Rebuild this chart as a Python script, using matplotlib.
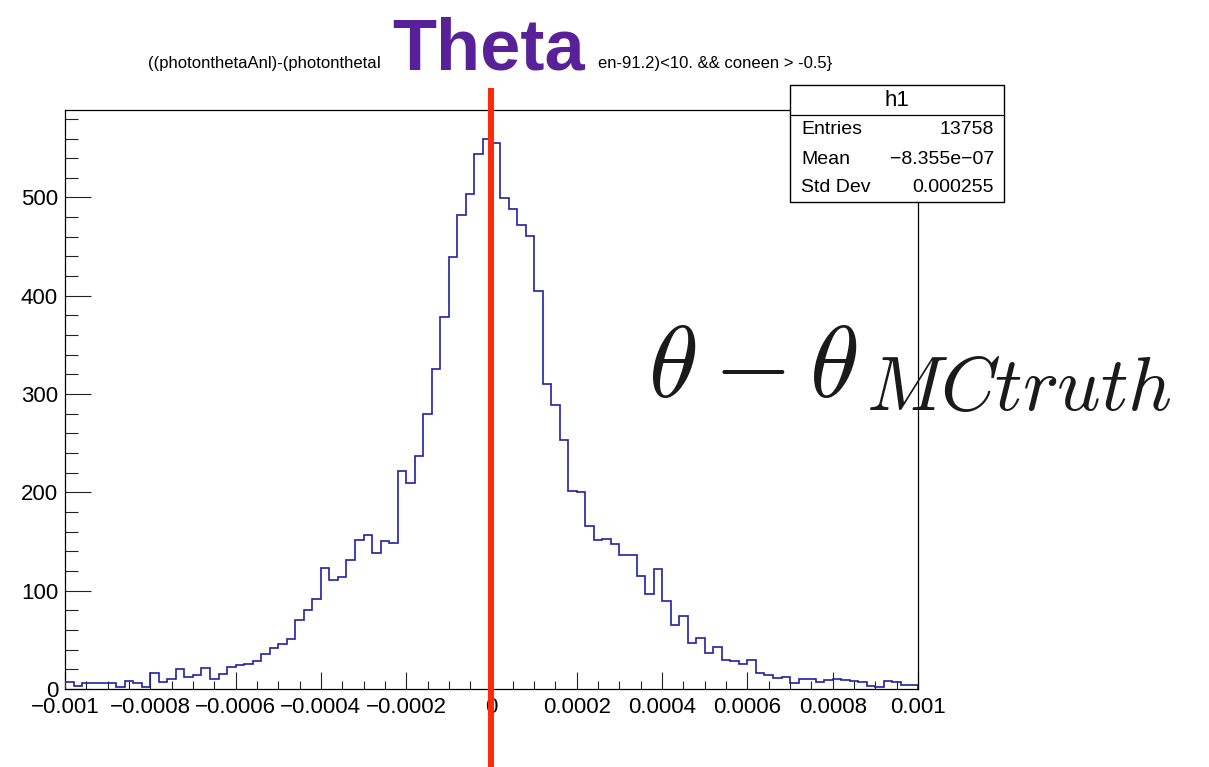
import numpy as np
import matplotlib
matplotlib.use("Agg")
import matplotlib.pyplot as plt
from matplotlib.ticker import MultipleLocator, FixedLocator, FixedFormatter
from matplotlib.patches import Rectangle
from matplotlib.lines import Line2D

plt.rcParams['font.family'] = ['Liberation Sans', 'DejaVu Sans']
plt.rcParams['mathtext.fontset'] = 'cm'

# ---- data ----
x_min, x_max, n_bins = -0.001, 0.001, 100
counts = [
    7, 3, 6, 6, 6, 6, 2, 8, 6, 2,
    16, 7, 10, 20, 12, 14, 21, 10, 15, 22,
    24, 25, 28, 36, 42, 46, 51, 70, 80, 92,
    123, 111, 114, 131, 152, 157, 138, 151, 149, 222,
    210, 237, 280, 326, 378, 439, 482, 504, 544, 560,
    555, 499, 488, 472, 461, 405, 310, 289, 253, 201,
    200, 166, 152, 153, 148, 136, 136, 115, 97, 122,
    90, 65, 74, 47, 52, 37, 43, 30, 28, 25,
    29, 16, 14, 11, 12, 6, 10, 10, 7, 9,
    10, 9, 8, 7, 3, 2, 8, 7, 4, 4,
]
x_tick_values = [-0.001, -0.0008, -0.0006, -0.0004, -0.0002, 0, 0.0002, 0.0004, 0.0006, 0.0008, 0.001]
x_tick_labels = ["\u22120.001", "\u22120.0008", "\u22120.0006", "\u22120.0004", "\u22120.0002", "0",
                 "0.0002", "0.0004", "0.0006", "0.0008", "0.001"]
y_tick_values = [0, 100, 200, 300, 400, 500]
y_tick_labels = ["0", "100", "200", "300", "400", "500"]
stat_name = "h1"
stat_rows = [("Entries", "13758"), ("Mean", "\u22128.355e\u221207"), ("Std Dev", "0.000255")]
title_left = "((photonthetaAnl)-(photonthetaI"
title_right = "en-91.2)<10. && coneen > -0.5}"
overlay_title = "Theta"
overlay_formula = r"$\theta - \theta$"
overlay_subscript = r"$MCtruth$"
marker_x = 0.0

W, H = 1209, 767
def fx(px):
    return px / W
def fy(py):
    return 1 - py / H

fig = plt.figure(figsize=(W / 100, H / 100), dpi=100)
ax = fig.add_axes([fx(65), fy(689), fx(918) - fx(65), fy(110) - fy(689)])

edges = np.linspace(x_min, x_max, n_bins + 1)
ax.stairs(counts, edges, color='#2020a6', linewidth=1.2, zorder=3)

ax.set_xlim(x_min, x_max)
ax.set_ylim(0, 589)

ax.xaxis.set_major_locator(FixedLocator(x_tick_values))
ax.xaxis.set_major_formatter(FixedFormatter(x_tick_labels))
ax.xaxis.set_minor_locator(MultipleLocator(0.00005))
ax.yaxis.set_major_locator(FixedLocator(y_tick_values))
ax.yaxis.set_major_formatter(FixedFormatter(y_tick_labels))
ax.yaxis.set_minor_locator(MultipleLocator(20))

ax.tick_params(axis='x', which='major', direction='in', length=12, width=0.8, color='#222222',
               labelsize=16, pad=6)
ax.tick_params(axis='x', which='minor', direction='in', length=6, width=0.8, color='#222222')
ax.tick_params(axis='y', which='major', direction='in', length=18.5, width=0.8, color='#222222',
               labelsize=16, pad=5)
ax.tick_params(axis='y', which='minor', direction='in', length=9.3, width=0.8, color='#222222')
for s in ax.spines.values():
    s.set_linewidth(0.9)
    s.set_color('black')

# red vertical marker line
ax.axvline(marker_x, ymin=-0.2, ymax=(689 - 91) / 579, color='#ff2a0a', linewidth=4.3,
           clip_on=False, zorder=5)

# title fragments
fig.text(fx(148), fy(68), title_left, fontsize=12, ha='left', va='baseline', color='black')
fig.text(fx(598), fy(68), title_right, fontsize=12, ha='left', va='baseline', color='black')
fig.text(fx(392), fy(69), overlay_title, fontsize=52, fontweight='bold', ha='left', va='baseline',
         color='#58219a')

# stat box
box = Rectangle((fx(790), fy(202)), fx(1004) - fx(790), fy(85) - fy(202), transform=fig.transFigure,
                facecolor='white', edgecolor='black', linewidth=1.0, zorder=10)
fig.patches.append(box)
fig.lines.append(Line2D([fx(790), fx(1004)], [fy(115), fy(115)], transform=fig.transFigure,
                        color='black', linewidth=0.9, zorder=11))
fig.text(fx(897), fy(101), stat_name, fontsize=16, ha='center', va='center', zorder=12)
row_centers = [130, 159, 188]
for (name, val), yc in zip(stat_rows, row_centers):
    fig.text(fx(801), fy(yc), name, fontsize=14, ha='left', va='center', zorder=12)
    fig.text(fx(994), fy(yc), val, fontsize=14, ha='right', va='center', zorder=12)

# big formula
fig.text(fx(648), fy(397), overlay_formula, fontsize=73, ha='left', va='baseline', color='#1a1a1a',
         zorder=12)
fig.text(fx(866), fy(410), overlay_subscript, fontsize=55, ha='left', va='baseline', color='#1a1a1a',
         zorder=12)

fig.savefig('out.png', dpi=100)
